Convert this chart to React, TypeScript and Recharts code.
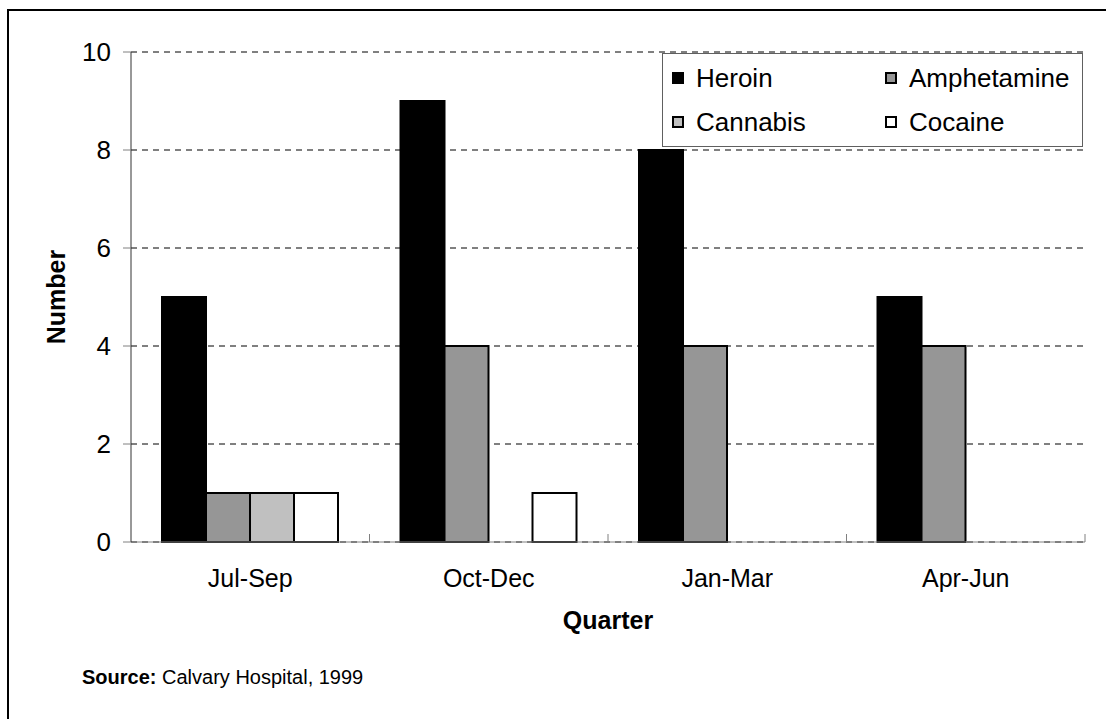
import { BarChart, Bar, XAxis, YAxis, CartesianGrid, Legend } from "recharts"

const quarters = ["Jul-Sep", "Oct-Dec", "Jan-Mar", "Apr-Jun"]
const seriesNames = ["Heroin", "Amphetamine", "Cannabis", "Cocaine"]
const heroin = [5, 9, 8, 5]
const amphetamine = [1, 4, 4, 4]
const cannabis = [1, 0, 0, 0]
const cocaine = [1, 1, 0, 0]
const yTicks = [0, 2, 4, 6, 8, 10]

const font = "'Liberation Sans', Arial, sans-serif"

const data = quarters.map((q, i) => ({
    quarter: q,
    Heroin: heroin[i],
    Amphetamine: amphetamine[i],
    Cannabis: cannabis[i],
    Cocaine: cocaine[i],
}))

// category label in the middle, tick mark on the right edge of the band
function QuarterTick(props: any) {
    const { x, y, payload, width, visibleTicksCount } = props
    const half = (width || 954) / (visibleTicksCount || 4) / 2
    return (
        <g>
            <line x1={x + half} y1={y} x2={x + half} y2={y - 8} stroke="#808080" />
            <text x={x} y={y + 45} textAnchor="middle" fontSize={25} fontFamily={font} fill="#000">
                {payload.value}
            </text>
        </g>
    )
}

function LegendBox(props: any) {
    const items = [...(props.payload || [])].sort(
        (a: any, b: any) => seriesNames.indexOf(a.value) - seriesNames.indexOf(b.value)
    )
    return (
        <div
            style={{
                boxSizing: "border-box",
                width: 421,
                height: 94,
                border: "1px solid #606060",
                background: "#fff",
                padding: "2px 0 0 9px",
                display: "grid",
                gridTemplateColumns: "213px auto",
                gridAutoRows: "44px",
                fontFamily: font,
                fontSize: 26,
                color: "#000",
            }}
        >
            {items.map((it: any) => (
                <div key={it.value} style={{ display: "flex", alignItems: "center", whiteSpace: "nowrap" }}>
                    <span
                        style={{
                            display: "inline-block",
                            boxSizing: "border-box",
                            width: 12,
                            height: 12,
                            background: it.color,
                            border: "2px solid #000",
                            marginRight: 12,
                        }}
                    />
                    {it.value}
                </div>
            ))}
        </div>
    )
}

export default function App() {
    return (
        <div style={{ position: "absolute", left: 0, top: 0, width: 1106, height: 719, overflow: "hidden", background: "#fff" }}>
            <div
                style={{
                    position: "absolute",
                    left: 7,
                    top: 9,
                    width: 1200,
                    height: 800,
                    borderTop: "2px solid #000",
                    borderLeft: "2px solid #000",
                }}
            />
            <div style={{ position: "absolute", left: 0, top: 0 }}>
                <BarChart
                    width={1106}
                    height={719}
                    data={data}
                    margin={{ top: 52, right: 21, left: 71, bottom: 137 }}
                    barCategoryGap="13%"
                    barGap={0}
                >
                    <CartesianGrid horizontal vertical={false} stroke="#000" strokeDasharray="6 5" />
                    <XAxis
                        dataKey="quarter"
                        height={40}
                        axisLine={{ stroke: "#808080" }}
                        tickLine={false}
                        tickSize={0}
                        tickMargin={0}
                        interval={0}
                        tick={<QuarterTick />}
                        label={{
                            content: (p: any) => {
                                const vb = p.viewBox
                                return (
                                    <text
                                        x={vb.x + vb.width / 2}
                                        y={vb.y + 87}
                                        textAnchor="middle"
                                        fontSize={25}
                                        fontWeight="bold"
                                        fontFamily={font}
                                        fill="#000"
                                    >
                                        Quarter
                                    </text>
                                )
                            },
                        }}
                    />
                    <YAxis
                        width={60}
                        domain={[0, 10]}
                        ticks={yTicks}
                        interval={0}
                        axisLine={{ stroke: "#333" }}
                        tickLine={{ stroke: "#808080" }}
                        tickSize={8}
                        tickMargin={12}
                        tick={{ fontSize: 26, fontFamily: font, fill: "#000" }}
                        label={{
                            content: (p: any) => {
                                const vb = p.viewBox
                                const lx = vb.x - 6
                                const ly = vb.y + vb.height / 2
                                return (
                                    <text
                                        x={lx}
                                        y={ly}
                                        transform={`rotate(-90, ${lx}, ${ly})`}
                                        textAnchor="middle"
                                        fontSize={25}
                                        fontWeight="bold"
                                        fontFamily={font}
                                        fill="#000"
                                    >
                                        Number
                                    </text>
                                )
                            },
                        }}
                    />
                    <Legend
                        layout="horizontal"
                        verticalAlign="middle"
                        align="center"
                        content={<LegendBox />}
                        wrapperStyle={{ left: 662, top: 53, width: 421, height: 94 }}
                    />
                    <Bar dataKey="Heroin" fill="#000" stroke="#000" strokeWidth={2} isAnimationActive={false} />
                    <Bar dataKey="Amphetamine" fill="#969696" stroke="#000" strokeWidth={2} isAnimationActive={false} />
                    <Bar dataKey="Cannabis" fill="#C0C0C0" stroke="#000" strokeWidth={2} isAnimationActive={false} />
                    <Bar dataKey="Cocaine" fill="#fff" stroke="#000" strokeWidth={2} isAnimationActive={false} />
                </BarChart>
            </div>
            <div
                style={{
                    position: "absolute",
                    left: 82,
                    top: 667,
                    fontFamily: font,
                    fontSize: 20,
                    lineHeight: "20px",
                    color: "#000",
                    whiteSpace: "nowrap",
                }}
            >
                <b>Source:</b> Calvary Hospital, 1999
            </div>
        </div>
    )
}
